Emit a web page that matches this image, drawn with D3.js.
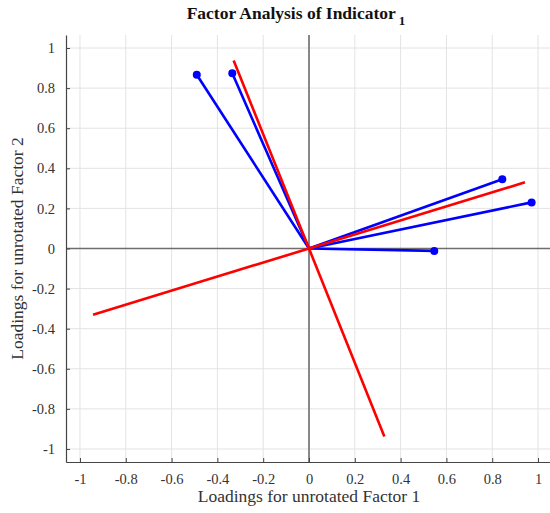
<!DOCTYPE html>
<html>
<head>
<meta charset="utf-8">
<script src="https://cdn.jsdelivr.net/npm/d3@7"></script>
<style>
  body { margin: 0; background: #fff; }
  text { font-family: "Liberation Serif", "Times New Roman", serif; }
</style>
</head>
<body>
<svg width="550" height="513"></svg>
<script>
// loadings
const variables = ["v1", "v2", "v3", "v4", "v5"];
const factor1 = [-0.490, -0.335, 0.844, 0.972, 0.547];
const factor2 = [0.867, 0.874, 0.345, 0.230, -0.012];

// rotation axes (drawn from -end to +end through origin)
const rotX = [0.943, -0.329];
const rotY = [0.330, 0.938];

const xTicks = [-1, -0.8, -0.6, -0.4, -0.2, 0, 0.2, 0.4, 0.6, 0.8, 1];
const yTicks = [-1, -0.8, -0.6, -0.4, -0.2, 0, 0.2, 0.4, 0.6, 0.8, 1];

const svg = d3.select("svg");
const plotLeft = 66, plotRight = 552, plotTop = 35, plotBottom = 462;
const serif = "'Liberation Serif', 'Times New Roman', serif";

const x = d3.scaleLinear().domain([-1.061, 1.061]).range([plotLeft, plotRight]);
const y = d3.scaleLinear().domain([-1.065, 1.065]).range([plotBottom, plotTop]);

// hyphen minus like the original
const fmt = d => String(+d.toFixed(2));

// grid
const grid = svg.append("g");
grid.selectAll(".gx").data(xTicks).enter().append("line")
    .attr("x1", d => x(d)).attr("x2", d => x(d))
    .attr("y1", plotTop).attr("y2", plotBottom)
    .attr("stroke", "#e3e3e3").attr("stroke-width", 1);
grid.selectAll(".gy").data(yTicks).enter().append("line")
    .attr("x1", plotLeft).attr("x2", plotRight)
    .attr("y1", d => y(d)).attr("y2", d => y(d))
    .attr("stroke", "#e3e3e3").attr("stroke-width", 1);

// zero lines
svg.append("line")
    .attr("x1", plotLeft).attr("x2", plotRight).attr("y1", y(0)).attr("y2", y(0))
    .attr("stroke", "#6e6e6e").attr("stroke-width", 1.6);
svg.append("line")
    .attr("x1", x(0)).attr("x2", x(0)).attr("y1", plotTop).attr("y2", plotBottom)
    .attr("stroke", "#6e6e6e").attr("stroke-width", 1.6);

// axes
const xAxis = d3.axisBottom(x).tickValues(xTicks).tickSizeInner(-4).tickSizeOuter(0).tickPadding(9)
    .tickFormat(fmt);
const yAxis = d3.axisLeft(y).tickValues(yTicks).tickSizeInner(-4).tickSizeOuter(0).tickPadding(11)
    .tickFormat(fmt);

const gx = svg.append("g").attr("transform", `translate(0,${plotBottom})`).call(xAxis);
const gy = svg.append("g").attr("transform", `translate(${plotLeft},0)`).call(yAxis);
[gx, gy].forEach(g => {
    g.attr("font-family", serif).attr("font-size", 14.5);
    g.select(".domain").attr("stroke", "#444").attr("stroke-width", 1.2);
    g.selectAll(".tick line").attr("stroke", "#444");
    g.selectAll(".tick text").attr("fill", "#333");
});
gx.selectAll(".tick text").attr("dy", "0.9em");

// blue loading vectors
svg.selectAll(".vec").data(variables).enter().append("line")
    .attr("x1", x(0)).attr("y1", y(0))
    .attr("x2", (d, i) => x(factor1[i])).attr("y2", (d, i) => y(factor2[i]))
    .attr("stroke", "#0000ff").attr("stroke-width", 2.6);

// red axes
svg.selectAll(".rot").data(rotX).enter().append("line")
    .attr("x1", (d, i) => x(-rotX[i])).attr("y1", (d, i) => y(-rotY[i]))
    .attr("x2", (d, i) => x(rotX[i])).attr("y2", (d, i) => y(rotY[i]))
    .attr("stroke", "#ff0000").attr("stroke-width", 2.6);

// points
svg.selectAll(".pt").data(variables).enter().append("circle")
    .attr("cx", (d, i) => x(factor1[i])).attr("cy", (d, i) => y(factor2[i]))
    .attr("r", 4).attr("fill", "#0000ff");

// title
const title = svg.append("text")
    .attr("x", 296).attr("y", 19).attr("text-anchor", "middle")
    .attr("font-family", serif)
    .attr("font-size", 17.5).attr("font-weight", "bold").attr("fill", "#111");
title.append("tspan").text("Factor Analysis of Indicator");
title.append("tspan").attr("dy", 6).attr("dx", 3).attr("font-size", 13).text("1");

// axis labels
svg.append("text")
    .attr("x", x(0)).attr("y", 502).attr("text-anchor", "middle")
    .attr("font-family", serif)
    .attr("font-size", 17.5).attr("fill", "#333")
    .text("Loadings for unrotated Factor 1");
svg.append("text")
    .attr("transform", `translate(23,${y(0)}) rotate(-90)`).attr("text-anchor", "middle")
    .attr("font-family", serif)
    .attr("font-size", 17.5).attr("fill", "#333")
    .text("Loadings for unrotated Factor 2");
</script>
</body>
</html>
